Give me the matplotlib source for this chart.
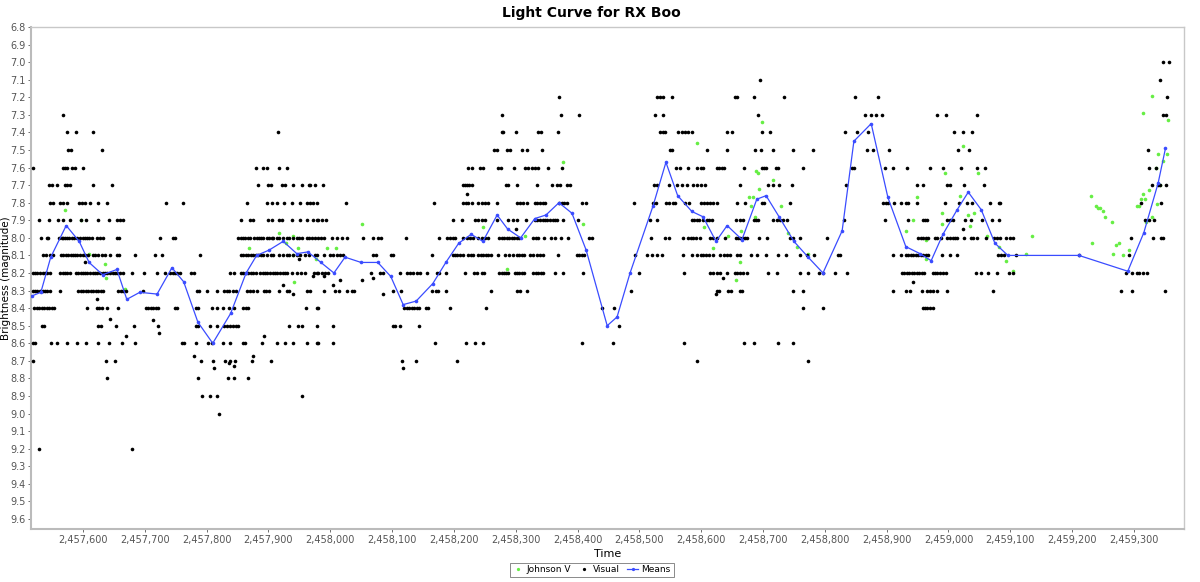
# -*- coding: utf-8 -*-
"""
Light curve for RX Boo: visual estimates, Johnson V and binned means.
"""

import numpy as np
import matplotlib
matplotlib.use('Agg')
import matplotlib.pyplot as plt
from matplotlib.ticker import FuncFormatter, MultipleLocator

# JD offset, all times below are JD - 2457000
JD0 = 2457000

# Visual estimates, one list of times per magnitude row
visual_7_0 = [2347, 2357]
visual_7_1 = [1695, 2342]
visual_7_2 = [1370, 1529, 1534, 1538, 1553, 1655, 1658, 1685, 1734, 1849, 1886, 2353]
visual_7_3 = [568, 1278, 1373, 1402, 1525, 1538, 1692, 1865, 1875, 1883, 1892, 1981,
              1996, 2046, 2347, 2352]
visual_7_4 = [574, 589, 616, 915, 1278, 1280, 1300, 1336, 1341, 1368, 1534, 1538, 1541,
              1562, 1569, 1574, 1579, 1585, 1642, 1650, 1698, 1711, 1833, 1852, 1870,
              2009, 2023, 2038]
visual_7_5 = [576, 581, 631, 1265, 1270, 1286, 1291, 1310, 1318, 1342, 1550, 1553, 1609,
              1642, 1687, 1697, 1716, 1748, 1781, 1868, 1878, 1904, 2015, 2033, 2323]
visual_7_6 = [519, 568, 571, 574, 582, 587, 600, 880, 891, 898, 917, 930, 1223, 1229,
              1242, 1247, 1271, 1276, 1297, 1315, 1320, 1326, 1331, 1336, 1352, 1375,
              1559, 1566, 1579, 1593, 1600, 1603, 1625, 1629, 1634, 1637, 1669, 1698,
              1701, 1705, 1721, 1724, 1764, 1844, 1847, 1897, 1911, 1933, 1970, 1991,
              2020, 2046, 2059, 2325, 2336]
visual_7_7 = [545, 550, 558, 571, 574, 579, 616, 647, 883, 899, 904, 922, 927, 940, 954,
              965, 968, 976, 988, 1215, 1218, 1221, 1225, 1229, 1284, 1287, 1302, 1334,
              1359, 1367, 1371, 1383, 1388, 1524, 1529, 1548, 1561, 1569, 1577, 1587,
              1593, 1600, 1606, 1663, 1708, 1716, 1726, 1747, 1834, 1949, 1959, 1997,
              2002, 2025, 2057, 2329, 2339, 2342, 2352]
visual_7_8 = [547, 552, 563, 568, 574, 594, 598, 603, 611, 624, 639, 734, 762, 865, 898,
              906, 914, 925, 938, 951, 962, 967, 972, 978, 1025, 1168, 1215, 1220, 1223,
              1229, 1239, 1246, 1250, 1255, 1270, 1302, 1307, 1312, 1318, 1331, 1334,
              1339, 1344, 1347, 1370, 1375, 1378, 1383, 1407, 1414, 1491, 1522, 1527,
              1543, 1548, 1554, 1557, 1574, 1580, 1600, 1605, 1609, 1614, 1619, 1625,
              1658, 1671, 1698, 1701, 1743, 1894, 1899, 1902, 1912, 1923, 1931, 1934,
              1949, 1994, 2017, 2030, 2038, 2067, 2081, 2083, 2311, 2343]
visual_7_9 = [529, 545, 560, 568, 579, 597, 605, 624, 642, 655, 660, 665, 855, 870, 875,
              899, 906, 917, 922, 938, 951, 962, 972, 978, 981, 986, 993, 1198, 1213,
              1234, 1239, 1246, 1250, 1270, 1287, 1295, 1302, 1316, 1331, 1334, 1339,
              1344, 1347, 1350, 1355, 1360, 1363, 1367, 1376, 1401, 1517, 1529, 1585,
              1588, 1593, 1596, 1603, 1609, 1613, 1617, 1656, 1663, 1668, 1685, 1689,
              1692, 1716, 1723, 1727, 1732, 1739, 1831, 1897, 1934, 1959, 1962, 1965,
              1997, 2002, 2007, 2026, 2036, 2054, 2070, 2081, 2318, 2325, 2333]
visual_8_0 = [532, 542, 543, 561, 566, 568, 571, 574, 577, 582, 585, 590, 595, 600, 603,
              606, 610, 615, 623, 628, 632, 655, 658, 725, 746, 749, 851, 856, 859, 862,
              867, 870, 877, 881, 885, 888, 891, 898, 901, 906, 907, 914, 917, 924, 930,
              933, 940, 946, 949, 954, 962, 965, 970, 975, 980, 985, 990, 1003, 1011,
              1019, 1027, 1053, 1069, 1077, 1082, 1122, 1176, 1189, 1194, 1198, 1202,
              1215, 1221, 1226, 1231, 1239, 1246, 1250, 1255, 1273, 1278, 1281, 1286,
              1289, 1294, 1297, 1302, 1305, 1328, 1333, 1336, 1346, 1357, 1364, 1373,
              1385, 1418, 1423, 1519, 1541, 1548, 1571, 1579, 1584, 1587, 1592, 1598,
              1614, 1619, 1625, 1638, 1656, 1659, 1663, 1668, 1671, 1674, 1693, 1706,
              1743, 1748, 1760, 1803, 1951, 1956, 1959, 1963, 1967, 1978, 1981, 1988,
              1997, 2002, 2007, 2010, 2013, 2025, 2036, 2039, 2046, 2060, 2073, 2078,
              2083, 2093, 2099, 2104, 2295, 2331, 2343, 2347]
visual_8_1 = [535, 540, 547, 552, 564, 568, 573, 576, 581, 584, 587, 590, 595, 600, 603,
              608, 616, 619, 624, 631, 636, 644, 655, 658, 684, 716, 728, 789, 856, 859,
              864, 867, 872, 875, 880, 883, 888, 891, 898, 904, 907, 917, 924, 930, 933,
              940, 946, 951, 959, 966, 975, 978, 990, 1000, 1005, 1011, 1016, 1021, 1069,
              1074, 1098, 1101, 1164, 1198, 1202, 1205, 1210, 1215, 1223, 1228, 1231,
              1239, 1244, 1247, 1252, 1255, 1260, 1271, 1283, 1289, 1295, 1302, 1305,
              1310, 1313, 1323, 1328, 1334, 1339, 1344, 1368, 1399, 1402, 1407, 1410,
              1493, 1512, 1520, 1529, 1537, 1571, 1585, 1593, 1600, 1603, 1608, 1613,
              1619, 1630, 1637, 1642, 1647, 1658, 1663, 1681, 1690, 1705, 1724, 1737,
              1760, 1771, 1782, 1821, 1824, 1910, 1923, 1931, 1934, 1939, 1942, 1947,
              1951, 1956, 1959, 1963, 1967, 1989, 2002, 2014, 2080, 2085, 2089, 2110,
              2211, 2292]
visual_8_2 = [519, 522, 526, 530, 535, 539, 542, 547, 563, 568, 571, 574, 579, 589, 592,
              597, 600, 603, 606, 611, 616, 619, 623, 628, 632, 636, 639, 644, 649, 652,
              655, 660, 665, 679, 699, 720, 733, 741, 746, 749, 752, 757, 775, 780, 838,
              844, 856, 859, 864, 867, 872, 875, 880, 886, 891, 894, 898, 902, 907, 911,
              914, 919, 924, 927, 930, 938, 946, 953, 959, 974, 978, 981, 986, 991, 996,
              1066, 1080, 1085, 1113, 1124, 1129, 1134, 1140, 1145, 1156, 1173, 1176,
              1187, 1218, 1233, 1238, 1246, 1249, 1273, 1278, 1281, 1284, 1287, 1299,
              1302, 1305, 1310, 1313, 1328, 1333, 1336, 1341, 1344, 1364, 1376, 1409,
              1499, 1572, 1614, 1619, 1625, 1630, 1642, 1655, 1658, 1663, 1668, 1674,
              1708, 1723, 1760, 1773, 1790, 1797, 1816, 1836, 1925, 1928, 1933, 1936,
              1941, 1944, 1949, 1952, 1957, 1960, 1975, 1978, 1981, 1986, 1991, 1996,
              2044, 2052, 2064, 2078, 2098, 2104, 2287, 2297, 2305, 2308, 2315, 2321]
visual_8_3 = [519, 522, 526, 530, 535, 539, 542, 547, 563, 592, 597, 600, 605, 608, 613,
              616, 621, 624, 629, 632, 657, 661, 665, 670, 697, 784, 788, 801, 817, 828,
              833, 836, 843, 847, 865, 870, 875, 881, 893, 896, 901, 917, 930, 933, 962,
              967, 990, 1008, 1014, 1027, 1035, 1038, 1101, 1114, 1164, 1171, 1174, 1187,
              1260, 1302, 1307, 1318, 1486, 1625, 1629, 1643, 1648, 1663, 1666, 1748,
              1764, 1910, 1931, 1937, 1957, 1965, 1970, 1975, 1981, 1997, 2072, 2279,
              2297, 2350]
visual_8_4 = [521, 526, 529, 534, 537, 542, 545, 550, 553, 606, 623, 626, 631, 639, 657,
              702, 705, 710, 713, 718, 721, 749, 752, 783, 786, 809, 817, 826, 836, 844,
              859, 864, 867, 961, 978, 981, 1119, 1124, 1127, 1132, 1135, 1140, 1143,
              1155, 1158, 1194, 1252, 1440, 1459, 1764, 1797, 1959, 1962, 1965, 1970,
              1975]
visual_8_5 = [534, 537, 624, 629, 653, 682, 721, 783, 786, 805, 817, 828, 833, 838, 843,
              847, 851, 933, 948, 954, 978, 1004, 1101, 1104, 1113, 1143, 1467]
visual_8_6 = [519, 522, 548, 558, 574, 590, 605, 624, 642, 663, 684, 760, 763, 783, 802,
              809, 826, 838, 859, 862, 890, 914, 927, 940, 962, 978, 981, 1004, 1169,
              1220, 1234, 1247, 1407, 1457, 1572, 1669, 1685, 1724, 1748]
visual_8_7 = [519, 637, 652, 791, 810, 830, 838, 846, 873, 904, 1116, 1139, 1205, 1593,
              1773]
visual_8_8 = [639, 786, 835, 844, 867]
visual_8_9 = [792, 805, 817, 954]
visual_9_0 = [820]
visual_9_2 = [529, 679]

# Visual estimates that sit between the 0.1 mag rows
visual_odd_jd = [603, 623, 644, 670, 713, 723, 780, 812, 836, 844, 875, 893, 924, 940,
                 949, 972, 990, 1004, 1016, 1051, 1070, 1085, 1117, 1221, 1300, 1624,
                 1635, 1942, 2023]
visual_odd_mag = [8.14, 8.35, 8.46, 8.56, 8.47, 8.54, 8.67, 8.74, 8.71, 8.73, 8.67, 8.56,
                  8.27, 8.32, 8.12, 8.22, 8.22, 8.27, 8.24, 8.24, 8.23, 8.32, 8.74, 7.75,
                  7.95, 8.32, 8.23, 8.25, 7.95]

# Johnson V observations
johnson_jd = [571, 597, 610, 636, 637, 668, 868, 917, 929, 940, 948, 940, 941, 977, 995,
              1009, 1051, 1247, 1286, 1315, 1376, 1409, 1593, 1605, 1619, 1643, 1656,
              1663, 1664, 1677, 1681, 1684, 1687, 1689, 1692, 1693, 1698, 1716, 1729,
              1740, 1755, 1773, 1931, 1942, 1949, 1963, 1963, 1989, 1989, 1994, 2018,
              2023, 2031, 2035, 2041, 2048, 2062, 2081, 2093, 2104, 2125, 2135, 2231,
              2239, 2242, 2245, 2250, 2253, 2264, 2232, 2271, 2276, 2266, 2282, 2292,
              2305, 2308, 2311, 2315, 2318, 2325, 2320, 2329, 2337, 2336, 2347, 2339,
              2353, 2315, 2329, 2355, 2342]
johnson_mag = [7.84, 7.90, 8.09, 8.15, 8.23, 8.29, 8.06, 7.97, 8.03, 7.99, 8.06, 8.10,
               8.25, 8.12, 8.06, 8.06, 7.92, 7.94, 8.18, 7.99, 7.57, 7.92, 7.46, 7.94,
               8.06, 7.99, 8.24, 8.14, 7.96, 7.77, 7.82, 7.77, 7.88, 7.62, 7.63, 7.72,
               7.34, 7.67, 7.82, 7.97, 8.05, 8.09, 7.96, 7.90, 7.77, 8.01, 8.12, 7.86,
               7.92, 7.63, 7.76, 7.48, 7.87, 7.93, 7.86, 7.63, 7.99, 8.05, 8.13, 8.19,
               8.09, 7.99, 7.76, 7.82, 7.83, 7.83, 7.85, 7.88, 7.91, 8.03, 8.04, 8.03,
               8.09, 8.10, 8.07, 7.82, 7.82, 7.78, 7.75, 7.78, 7.73, 7.91, 7.88, 7.81,
               7.60, 7.56, 7.52, 7.52, 7.29, 7.19, 7.33, 7.70]

# Binned means
means_jd = [518, 532, 548, 573, 594, 610, 632, 655, 671, 692, 720, 744, 763, 786, 810,
            839, 864, 881, 901, 924, 946, 964, 985, 1006, 1024, 1050, 1077, 1098, 1118,
            1139, 1166, 1187, 1208, 1228, 1247, 1270, 1287, 1308, 1331, 1349, 1370, 1391,
            1414, 1448, 1464, 1485, 1522, 1543, 1562, 1585, 1603, 1624, 1642, 1666, 1690,
            1705, 1726, 1750, 1773, 1797, 1828, 1847, 1875, 1902, 1931, 1954, 1972, 1991,
            2014, 2032, 2053, 2075, 2096, 2211, 2290, 2316, 2339, 2351]
means_mag = [8.33, 8.31, 8.11, 7.93, 8.02, 8.14, 8.21, 8.18, 8.35, 8.31, 8.32, 8.17,
             8.25, 8.48, 8.60, 8.43, 8.20, 8.10, 8.07, 8.02, 8.09, 8.08, 8.14, 8.20,
             8.11, 8.14, 8.14, 8.22, 8.38, 8.36, 8.26, 8.14, 8.03, 7.98, 8.02, 7.87,
             7.95, 8.00, 7.89, 7.87, 7.80, 7.86, 8.07, 8.50, 8.45, 8.20, 7.82, 7.57,
             7.76, 7.85, 7.88, 8.02, 7.93, 8.01, 7.78, 7.76, 7.88, 8.02, 8.11, 8.20,
             7.96, 7.45, 7.35, 7.77, 8.05, 8.09, 8.13, 7.98, 7.84, 7.74, 7.84, 8.03,
             8.10, 8.10, 8.19, 7.97, 7.69, 7.49]

#Assembling the visual series from the rows
rows = [(7.0, visual_7_0), (7.1, visual_7_1), (7.2, visual_7_2), (7.3, visual_7_3),
        (7.4, visual_7_4), (7.5, visual_7_5), (7.6, visual_7_6), (7.7, visual_7_7),
        (7.8, visual_7_8), (7.9, visual_7_9), (8.0, visual_8_0), (8.1, visual_8_1),
        (8.2, visual_8_2), (8.3, visual_8_3), (8.4, visual_8_4), (8.5, visual_8_5),
        (8.6, visual_8_6), (8.7, visual_8_7), (8.8, visual_8_8), (8.9, visual_8_9),
        (9.0, visual_9_0), (9.2, visual_9_2)]
vis_jd = []
vis_mag = []
for mag, times in rows:
    vis_jd += times
    vis_mag += [mag] * len(times)
vis_jd += visual_odd_jd
vis_mag += visual_odd_mag

vis_jd = np.array(vis_jd) + JD0
johnson_jd = np.array(johnson_jd) + JD0
means_jd = np.array(means_jd) + JD0

#Figure
plt.rcParams['font.family'] = ['DejaVu Sans']
fig = plt.figure(figsize=(12, 5.82), dpi=100)
ax = fig.add_axes([0.0258, 0.0911, 0.9609, 0.8625])

green = '#66ee44'
blue = '#3a4cff'
ax.plot(johnson_jd, johnson_mag, 'o', color=green, markersize=2.6, markeredgewidth=0,
        label='Johnson V', zorder=2)
ax.plot(vis_jd, vis_mag, 'o', color='black', markersize=2.6, markeredgewidth=0,
        label='Visual', zorder=3)
ax.plot(means_jd, means_mag, '-o', color=blue, linewidth=0.9, markersize=2.6,
        markeredgewidth=0, label='Means', zorder=4)

ax.set_xlim(JD0 + 516, JD0 + 2381)
ax.set_ylim(9.657, 6.8)

ax.xaxis.set_major_locator(MultipleLocator(100))
ax.yaxis.set_major_locator(MultipleLocator(0.1))
ax.xaxis.set_major_formatter(FuncFormatter(lambda v, p: '{:,.0f}'.format(v)))
ax.yaxis.set_major_formatter(FuncFormatter(lambda v, p: '{:.1f}'.format(v)))
ax.tick_params(axis='both', labelsize=7, colors='#555555', length=2, width=0.6,
               pad=2)

for side in ['top', 'right']:
    ax.spines[side].set_color('#c8c8c8')
    ax.spines[side].set_linewidth(1.0)
for side in ['left', 'bottom']:
    ax.spines[side].set_color('#bbbbbb')
    ax.spines[side].set_linewidth(1.5)

#Labels
fig.text(0.493, 0.977, 'Light Curve for RX Boo', ha='center', va='center',
         fontsize=10, fontweight='bold')
ax.set_xlabel('Time', fontsize=8, labelpad=3)
ax.set_ylabel('Brightness (magnitude)', fontsize=7.5, va='center')
ax.yaxis.set_label_coords(-0.0215, 0.5)

leg = fig.legend(loc='center', bbox_to_anchor=(0.493, 0.021), ncol=3, fontsize=6.5,
                 frameon=True, fancybox=False, edgecolor='#555555',
                 handlelength=1.2, handletextpad=0.4, columnspacing=0.8,
                 borderpad=0.3, markerscale=0.9)
leg.get_frame().set_linewidth(0.6)

fig.savefig('out.png', dpi=100)
